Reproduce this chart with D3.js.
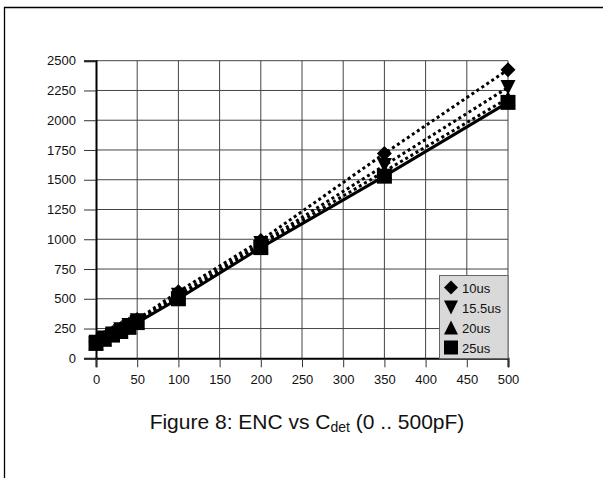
<!DOCTYPE html>
<html>
<head>
<meta charset="utf-8">
<script src="https://cdn.jsdelivr.net/npm/d3@7"></script>
<style>
  body { margin: 0; background: #fff; }
  svg { display: block; font-family: "Liberation Sans", Arial, sans-serif; }
</style>
</head>
<body>
<div id="chart"></div>
<script>
// capacitance (pF)
const cdet = [0, 10, 20, 30, 40, 50, 100, 200, 350, 500];

// ENC per shaping time
const enc10 = [140, 175, 215, 250, 285, 325, 560, 990, 1720, 2425];
const enc155 = [135, 170, 205, 240, 275, 315, 530, 965, 1620, 2275];
const enc20 = [130, 165, 200, 232, 268, 305, 515, 950, 1570, 2185];
const enc25 = [125, 160, 195, 225, 260, 300, 500, 930, 1530, 2150];

const seriesNames = ["10us", "15.5us", "20us", "25us"];
const xTicks = [0, 50, 100, 150, 200, 250, 300, 350, 400, 450, 500];
const yTicks = [0, 250, 500, 750, 1000, 1250, 1500, 1750, 2000, 2250, 2500];

const width = 603;
const height = 478;

const series = [
  { name: seriesNames[0], values: enc10, symbol: "diamond", dashed: true },
  { name: seriesNames[1], values: enc155, symbol: "down", dashed: true },
  { name: seriesNames[2], values: enc20, symbol: "up", dashed: true },
  { name: seriesNames[3], values: enc25, symbol: "square", dashed: false },
];

const x = d3.scaleLinear().domain([0, 500]).range([96, 508]);
const y = d3.scaleLinear().domain([0, 2500]).range([358.3, 60.7]);

const svg = d3
  .select("#chart")
  .append("svg")
  .attr("width", width)
  .attr("height", height);

// page frame (left + top rule)
svg
  .append("path")
  .attr("d", "M4.5,478 L4.5,7.5 L603,7.5")
  .attr("fill", "none")
  .attr("stroke", "#000")
  .attr("stroke-width", 1.3);

// grid
const grid = svg.append("g");
grid
  .selectAll(".hgrid")
  .data(yTicks.filter((d) => d > 0))
  .join("line")
  .attr("x1", x(0))
  .attr("x2", x(500))
  .attr("y1", (d) => y(d))
  .attr("y2", (d) => y(d))
  .attr("stroke", "#444")
  .attr("stroke-width", 1);
grid
  .selectAll(".vgrid")
  .data(xTicks.filter((d) => d > 0))
  .join("line")
  .attr("x1", (d) => x(d))
  .attr("x2", (d) => x(d))
  .attr("y1", y(0))
  .attr("y2", y(2500))
  .attr("stroke", "#444")
  .attr("stroke-width", 1);

// axes
const yAxis = d3
  .axisLeft(y)
  .tickValues(yTicks)
  .tickSize(12)
  .tickPadding(8)
  .tickFormat(d3.format("d"));
const xAxis = d3
  .axisBottom(x)
  .tickValues(xTicks)
  .tickSize(9)
  .tickPadding(7)
  .tickFormat(d3.format("d"));

const gy = svg
  .append("g")
  .attr("transform", `translate(${x(0)},0)`)
  .call(yAxis);
const gx = svg
  .append("g")
  .attr("transform", `translate(0,${y(0)})`)
  .call(xAxis);

[gx, gy].forEach((g) => {
  g.attr("font-size", null).attr("font-family", null);
  g.select(".domain").attr("stroke", "#000").attr("stroke-width", 2);
  g.selectAll(".tick line").attr("stroke", "#333").attr("stroke-width", 1);
  g.selectAll(".tick text")
    .attr("fill", "#111")
    .style("font-size", "13px")
    .style("font-family", "'Liberation Sans', Arial, sans-serif");
});

// lines
const line = d3
  .line()
  .x((d, i) => x(cdet[i]))
  .y((d) => y(d));

svg
  .append("g")
  .selectAll("path")
  .data(series)
  .join("path")
  .attr("d", (s) => line(s.values))
  .attr("fill", "none")
  .attr("stroke", "#000")
  .attr("stroke-width", 3)
  .attr("stroke-dasharray", (s) => (s.dashed ? "3,3" : null));

// marker shapes
function symbolPath(kind, r = 7.5) {
  if (kind === "diamond") return `M0,${-r} L${r},0 L0,${r} L${-r},0 Z`;
  if (kind === "down") return `M${-r},${-r} L${r},${-r} L0,${r} Z`;
  if (kind === "up") return `M${-r},${r} L${r},${r} L0,${-r} Z`;
  return `M${-r},${-r} L${r},${-r} L${r},${r} L${-r},${r} Z`;
}

series.forEach((s) => {
  svg
    .append("g")
    .selectAll("path")
    .data(s.values)
    .join("path")
    .attr("transform", (d, i) => `translate(${x(cdet[i])},${y(d)})`)
    .attr("d", symbolPath(s.symbol))
    .attr("fill", "#000");
});

// legend
const legend = svg.append("g").attr("transform", "translate(439.5,275.5)");
legend
  .append("rect")
  .attr("width", 68.5)
  .attr("height", 83)
  .attr("fill", "#d9d9d9")
  .attr("stroke", "#666")
  .attr("stroke-width", 1);

const item = legend
  .selectAll(".item")
  .data(series)
  .join("g")
  .attr("transform", (d, i) => `translate(11.5,${12 + i * 20})`);
item
  .append("path")
  .attr("d", (d) => symbolPath(d.symbol, 7))
  .attr("fill", "#000");
item
  .append("text")
  .attr("x", 11)
  .attr("y", 5)
  .attr("fill", "#111")
  .style("font-size", "13px")
  .text((d) => d.name);

// caption
const caption = svg
  .append("text")
  .attr("x", 307)
  .attr("y", 429)
  .attr("text-anchor", "middle")
  .attr("fill", "#111")
  .style("font-size", "21px");
caption.append("tspan").text("Figure 8: ENC vs C");
caption
  .append("tspan")
  .attr("dy", 3)
  .style("font-size", "14px")
  .text("det");
caption.append("tspan").attr("dy", -3).text(" (0 .. 500pF)");
</script>
</body>
</html>
